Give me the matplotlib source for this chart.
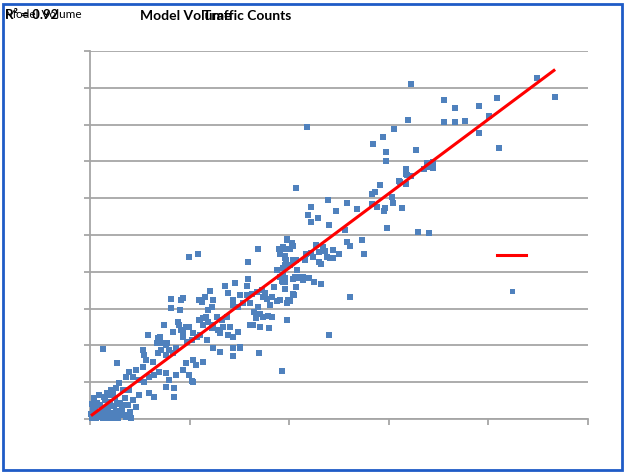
import numpy as np
import matplotlib
matplotlib.use("Agg")
import matplotlib.pyplot as plt
from matplotlib.lines import Line2D
from matplotlib.patches import Rectangle

# Traffic counts (x, thousands) vs model volume (y, thousands)
high_x = [32.2,44.9,46.7,35.5,36.6,39.1,40.9,40.1,31.9,35.5,
          36.6,37.7,39.1,41.1,32.7,31.7,31.7,32.2,33.8,33.8,
          33.5,34.4,34.4,31.7,31.1,28.4,29.7,29.7,31.0,31.8,
          29.1,28.6,28.3,20.7,30.3,30.4,31.3,28.3,28.8,29.6,
          29.5,23.9,25.8,26.8,22.2,24.7,21.9,22.9,22.2,24.0,
          29.8,32.9,34.0,25.6,27.3,25.8,26.1,27.5,21.8,30.5,
          29.4]
high_y = [45.5,46.3,43.8,43.4,42.3,42.5,43.6,41.2,40.6,40.4,
          40.4,40.5,38.9,36.8,36.6,34.0,33.3,33.0,34.8,34.2,
          34.0,34.9,34.1,31.9,32.2,37.4,36.3,35.1,32.3,33.2,
          31.8,30.8,30.6,31.4,30.2,29.4,28.7,29.2,28.8,28.7,
          28.3,29.8,29.4,28.5,28.8,28.3,27.7,27.3,26.8,26.4,
          26.0,25.4,25.3,25.7,24.3,24.1,23.5,22.4,39.7,39.4,
          38.3]

mid_x = [19.8,20.3,20.4,19.4,19.6,19.1,19.6,19.7,20.4,19.6,
         19.4,20.1,21.7,22.2,22.7,23.4,23.0,23.6,23.8,24.1,
         24.4,24.4,25.0,23.0,23.2,22.4,21.6,20.6,19.1,19.3,
         19.4,19.6,20.6,20.9,21.4,21.4,22.0,22.5,23.2,19.6,
         20.7,20.4,20.5,19.1,20.1,19.8,26.1,19.8,24.0,19.0,
         19.1,19.6,19.8,20.3,20.1,19.7,18.8,19.4,19.6,19.3,
         20.7,20.8,20.4,20.9,19.9,19.3,17.0]
mid_y = [24.5,23.9,23.5,23.4,23.1,22.4,21.9,21.6,21.6,20.9,
         20.5,20.9,22.4,22.6,23.6,23.4,22.7,22.8,22.0,21.9,
         21.9,23.0,22.4,21.3,21.1,22.0,21.6,21.6,19.3,18.9,
         18.6,19.2,19.3,19.3,19.3,18.9,19.2,18.6,18.3,17.7,
         17.9,17.0,16.9,16.2,16.0,15.8,16.6,13.5,11.4,23.1,
         22.6,22.2,24.3,23.8,23.1,20.9,20.2,19.6,18.6,18.8,
         21.6,20.2,19.0,19.2,16.2,6.5,9.0]

lm_x = [9.9,10.8,16.9,15.9,13.6,14.6,13.9,15.9,15.8,14.4,
        15.1,15.8,16.3,14.4,14.9,15.4,16.1,16.8,17.3,17.6,
        17.4,17.8,18.5,18.3,16.5,17.1,17.4,17.9,18.3,16.7,
        16.1,16.4,17.1,18.0,18.8,18.1,16.9,8.1,9.3,8.1,
        11.5,12.0,12.3,11.2,11.8,12.2,9.0,12.8,13.3,13.8,
        11.0,11.3,11.8,12.3,13.4,14.1,13.1,13.9,14.4,12.9,
        12.2,14.9,8.8,9.1,9.9,10.3,10.7,9.3,7.4,9.7,
        10.2,11.0,11.7,12.3,13.1,14.4,15.1,7.0,7.7,6.7,
        14.4,15.1]
lm_y = [22.0,22.4,23.1,21.3,18.1,18.5,17.1,19.0,18.1,16.2,
        16.9,16.9,17.0,15.5,15.2,15.8,15.8,17.3,17.5,17.1,
        16.6,16.3,17.9,16.6,14.5,14.3,13.9,14.0,13.9,13.7,
        12.8,12.8,12.5,12.4,16.0,15.5,15.2,16.3,16.4,15.1,
        16.6,17.4,16.2,15.9,14.8,15.2,14.8,13.9,13.5,13.9,
        13.5,13.7,13.2,12.8,12.5,12.5,11.7,11.4,11.1,12.1,
        12.4,11.8,13.2,12.1,12.5,11.7,11.1,11.1,12.8,10.5,
        10.7,11.4,10.7,9.6,9.1,9.6,9.6,11.1,10.3,10.3,
        8.6,9.8]

low_x = [1.3,2.7,5.8,8.3,8.9,9.3,9.6,10.9,11.3,11.6,
         9.1,10.9,6.8,7.3,7.6,7.1,7.9,8.3,6.8,7.6,
         8.6,5.3,5.4,5.6,6.3,5.3,4.6,3.9,3.6,4.3,
         4.9,5.4,5.9,6.4,6.9,7.6,7.9,8.6,9.3,9.6,
         10.3,10.6,11.3,9.9,10.3,8.4,8.4,7.6,6.4,5.9,
         4.9,3.9,3.3,2.6,2.9,2.1,1.9,1.4,10.2]
low_y = [9.5,7.6,11.4,11.8,12.8,11.7,12.5,13.5,12.8,13.9,
         16.2,16.2,11.0,10.3,10.1,9.4,9.4,9.0,9.0,8.7,
         9.6,9.4,8.7,8.0,7.7,7.1,6.7,6.4,5.7,5.7,
         5.3,5.0,5.7,6.0,6.4,6.3,5.3,6.0,6.7,7.6,
         8.0,7.3,7.7,6.0,5.0,4.2,3.0,4.3,3.0,3.5,
         3.3,3.9,3.9,4.2,4.9,3.9,3.3,3.0,5.2]

origin_x = [0.2,0.4,0.6,0.8,1.0,1.2,1.4,1.6,1.8,2.0,
            2.2,2.4,2.6,2.8,3.0,3.2,3.4,0.5,0.7,1.0,
            1.5,2.0,0.3,0.1,1.3,2.2,2.8,3.6,3.8,4.0,
            4.3,3.5,2.5,3.2,0.9,1.7,0.4,2.3,3.0,1.1,
            0.6,1.9,4.6,4.1,2.7,0.2]
origin_y = [0.1,0.5,0.1,1.0,0.3,1.2,0.7,0.1,1.5,0.8,
            0.4,1.8,1.1,0.1,2.2,1.2,0.5,1.5,2.2,1.9,
            2.6,2.3,1.2,0.7,0.1,0.1,1.0,0.3,1.9,1.0,
            2.6,2.9,2.9,1.9,3.2,3.6,2.8,3.4,0.9,0.6,
            0.9,0.3,1.6,0.2,2.0,2.0]

r2_text = "R² = 0.92"
title_a = "Model Volume"
title_b = "Traffic Counts"

x = np.array(high_x + mid_x + lm_x + low_x + origin_x)
y = np.array(high_y + mid_y + lm_y + low_y + origin_y)

blue = "#4f81bd"
grid = "#a6a6a6"

fig = plt.figure(figsize=(6.26, 4.74), dpi=100)
ax = fig.add_axes([90/626, 55/474, 498/626, 368/474])

ax.scatter(x, y, marker="s", s=13, color=blue, linewidths=0, zorder=3, clip_on=False)
coef = np.polyfit(x, y, 1)
xs = np.array([x.min(), x.max()])
ax.plot(xs, np.polyval(coef, xs), color="red", lw=2.2, zorder=4, solid_capstyle="butt")

ax.set_xlim(0, 50)
ax.set_ylim(0, 50)
ax.set_xticks(np.arange(0, 51, 10))
ax.set_yticks(np.arange(0, 51, 5))
ax.set_xticklabels([])
ax.set_yticklabels([])
ax.yaxis.grid(True, color=grid, lw=1.3)
ax.set_axisbelow(True)
for s in ["top", "right"]:
    ax.spines[s].set_visible(False)
for s in ["left", "bottom"]:
    ax.spines[s].set_color(grid)
    ax.spines[s].set_linewidth(1.3)
ax.tick_params(axis="both", length=4, width=1.3, color=grid, direction="out")

handles = [Line2D([], [], color="red", lw=2.2),
           Line2D([], [], color=blue, marker="s", ms=3.6, lw=0, markeredgewidth=0)]
ax.legend(handles, ["", ""], loc="center", bbox_to_anchor=(0.847, 0.394),
          frameon=False, fontsize=10, labelspacing=1.6, handlelength=2.1,
          handletextpad=0, borderpad=0, numpoints=1)

fig.text(5/626, 1 - 14/474, title_a, fontsize=8.5, family="Lato", va="center", ha="left")
fig.text(5/626, 1 - 15/474, r2_text, fontsize=9.5, family="Lato", fontweight="bold", va="center", ha="left")
fig.text(140/626, 1 - 16/474, title_a, fontsize=10, family="Lato", fontweight="bold", va="center", ha="left")
fig.text(203/626, 1 - 16/474, title_b, fontsize=10, family="Lato", fontweight="bold", va="center", ha="left")

fig.patches.append(Rectangle((3/626, 4/474), 619/626, 466/474, transform=fig.transFigure,
                             fill=False, edgecolor="#1e5bc6", lw=2.0))

fig.savefig("out.png", dpi=100)
